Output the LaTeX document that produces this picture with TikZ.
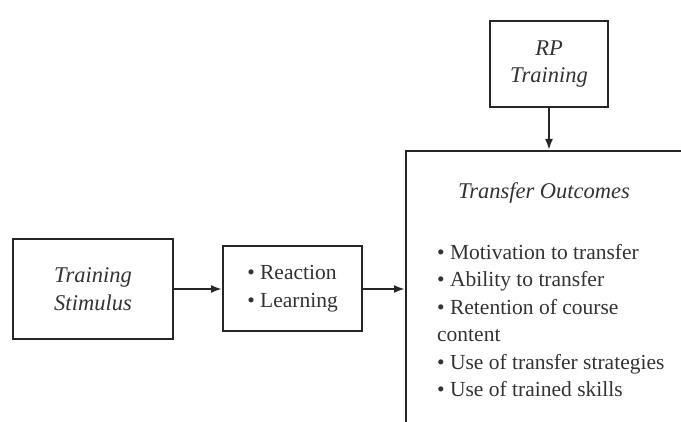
\documentclass[tikz,border=0pt]{standalone}
\usepackage{fontspec}
\setmainfont{Liberation Serif}
\usetikzlibrary{arrows.meta}
\newcommand{\itm}{\textbullet\ }
\begin{document}
\begin{tikzpicture}[x=1pt,y=-1pt,
  box/.style={draw=black!85,line width=2pt,inner sep=0pt},
  link/.style={draw=black!85,line width=2pt,-{Latex[length=11pt,width=8pt]}},
  txt/.style={font=\fontsize{21.5}{27.6}\selectfont,text=black!80,inner sep=0pt},
  ttl/.style={txt,font=\fontsize{22.5}{27.6}\selectfont\itshape}]
\useasboundingbox (0,0) rectangle (681,422);
\clip (0,0) rectangle (681,422);
% boxes
\node[box,minimum width=160pt,minimum height=100pt] (stim) at (93,289) {};
\node[box,minimum width=139pt,minimum height=85pt] (react) at (292.5,289) {};
\node[box,minimum width=118pt,minimum height=86pt] (rp) at (549,64) {};
\node[box,anchor=north west,minimum width=300pt,minimum height=290pt] (out) at (405,150) {};
% box texts
\node[ttl,align=center] (stimtxt) at (stim.center) {Training\\Stimulus};
\node[txt,align=left] (reacttxt) at (react.center) {\itm Reaction\\\itm Learning};
\node[ttl,align=center] (rptxt) at (rp.center) {RP\\Training};
\node[ttl,anchor=base] (outttl) at (544,199) {Transfer Outcomes};
% the base anchor of a multi-line node sits on its last line
\node[txt,align=left,anchor=base west] (outlist) at (437,397)
  {\itm Motivation to transfer\\
   \itm Ability to transfer\\
   \itm Retention of course\\
   content\\
   \itm Use of transfer strategies\\
   \itm Use of trained skills};
% connectors
\draw[link] (stim.east) -- (react.west);
\draw[link] (react.east) -- (react.east -| out.west);
\draw[link] (rp.south) -- (rp.south |- out.north);
\end{tikzpicture}
\end{document}
